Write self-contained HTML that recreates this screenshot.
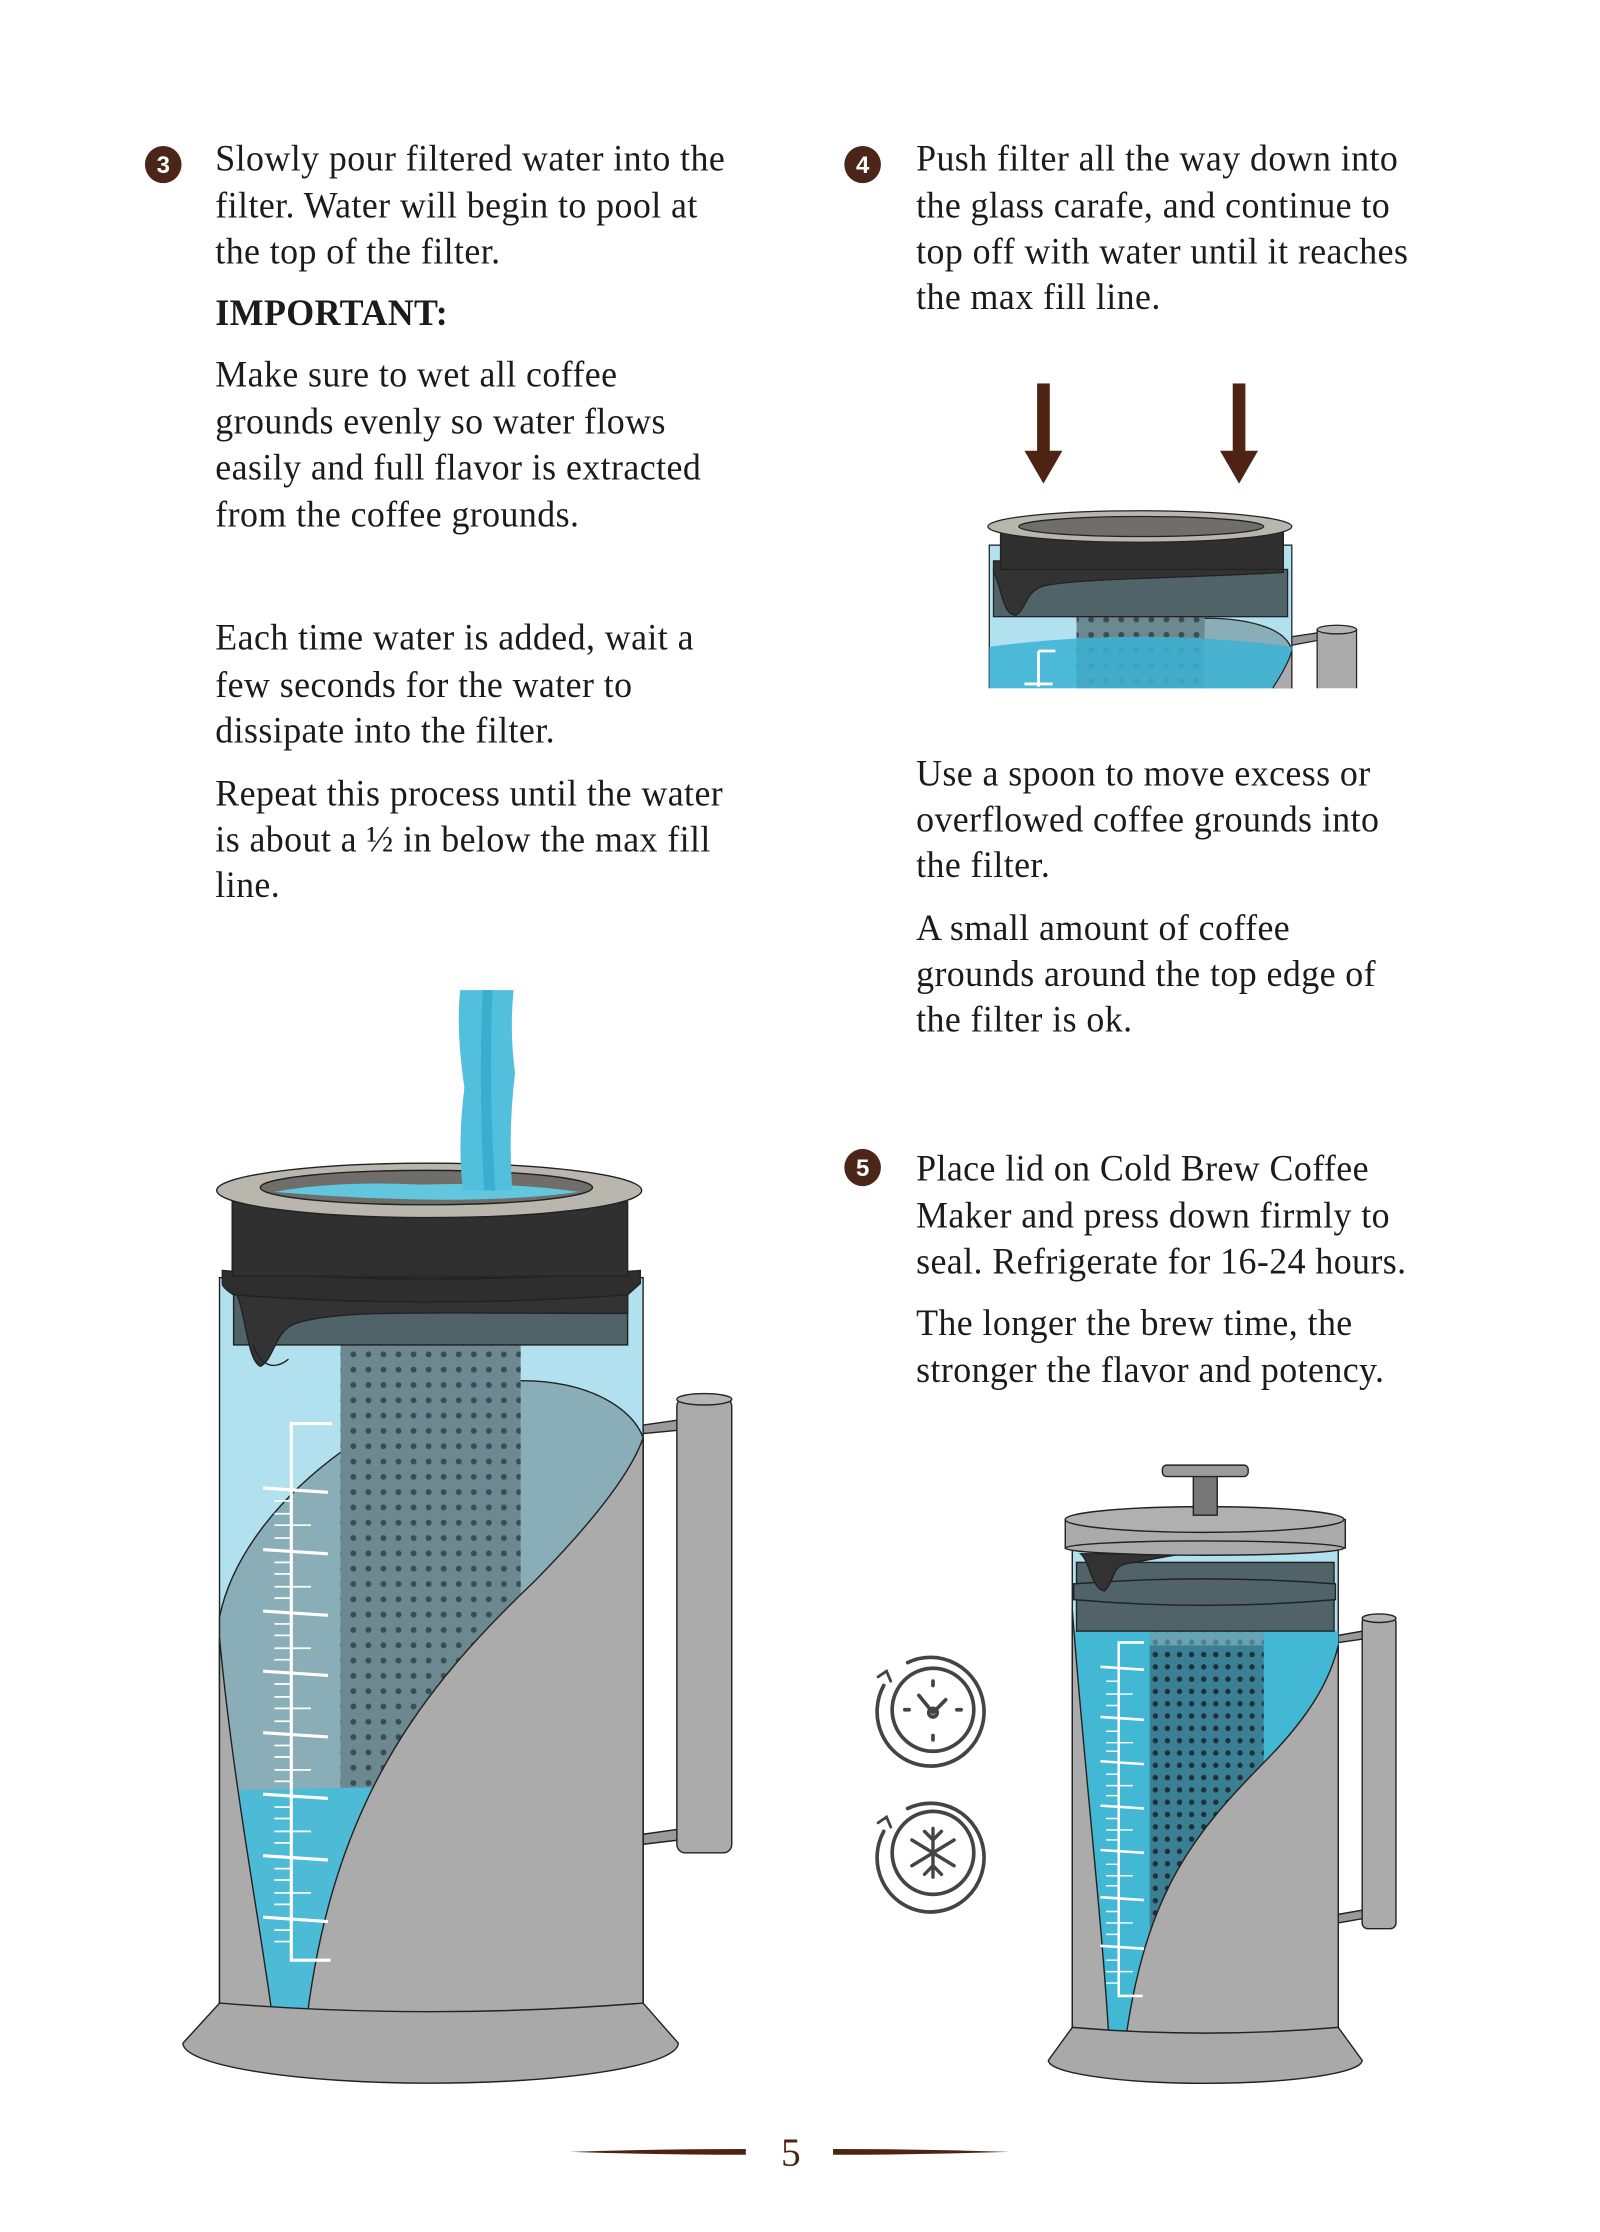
<!DOCTYPE html>
<html><head><meta charset="utf-8"><style>
html,body{margin:0;padding:0;background:#fff}
svg{display:block}
.t{font-family:"Liberation Serif",serif;font-size:25.5px;letter-spacing:0.3px;fill:#1b1b1b}
.b{font-weight:bold}
.n{font-family:"Liberation Sans",sans-serif;font-weight:bold;font-size:17px;fill:#fff}
</style></head><body>
<svg width="1600" height="2232" viewBox="0 0 1137 1560" preserveAspectRatio="none" xmlns="http://www.w3.org/2000/svg">
<defs>
<pattern id="dots" width="10.7" height="10.7" patternUnits="userSpaceOnUse"><circle cx="5" cy="5" r="2.1" fill="#3c4d52"/></pattern>
<pattern id="dots2" width="8.6" height="8.6" patternUnits="userSpaceOnUse"><circle cx="4" cy="4" r="1.9" fill="#1f2f36"/></pattern>
<clipPath id="c4"><rect x="690" y="250" width="300" height="231"/></clipPath>
</defs>

<circle cx="116" cy="115" r="13" fill="#4a2518"/><text x="116" y="121" text-anchor="middle" class="n">3</text>
<circle cx="613" cy="115" r="13" fill="#4a2518"/><text x="613" y="121" text-anchor="middle" class="n">4</text>
<circle cx="613" cy="816" r="13" fill="#4a2518"/><text x="613" y="822" text-anchor="middle" class="n">5</text>

<g class="t">
<text x="153" y="119">Slowly pour filtered water into the</text>
<text x="153" y="152">filter. Water will begin to pool at</text>
<text x="153" y="184">the top of the filter.</text>
<text x="153" y="227" class="b">IMPORTANT:</text>
<text x="153" y="270">Make sure to wet all coffee</text>
<text x="153" y="303">grounds evenly so water flows</text>
<text x="153" y="335">easily and full flavor is extracted</text>
<text x="153" y="368">from the coffee grounds.</text>
<text x="153" y="454">Each time water is added, wait a</text>
<text x="153" y="487">few seconds for the water to</text>
<text x="153" y="519">dissipate into the filter.</text>
<text x="153" y="563">Repeat this process until the water</text>
<text x="153" y="595">is about a ½ in below the max fill</text>
<text x="153" y="627">line.</text>
<text x="651" y="119">Push filter all the way down into</text>
<text x="651" y="152">the glass carafe, and continue to</text>
<text x="651" y="184">top off with water until it reaches</text>
<text x="651" y="216">the max fill line.</text>
<text x="651" y="549">Use a spoon to move excess or</text>
<text x="651" y="581">overflowed coffee grounds into</text>
<text x="651" y="613">the filter.</text>
<text x="651" y="657">A small amount of coffee</text>
<text x="651" y="689">grounds around the top edge of</text>
<text x="651" y="721">the filter is ok.</text>
<text x="651" y="825">Place lid on Cold Brew Coffee</text>
<text x="651" y="858">Maker and press down firmly to</text>
<text x="651" y="890">seal. Refrigerate for 16-24 hours.</text>
<text x="651" y="933">The longer the brew time, the</text>
<text x="651" y="966">stronger the flavor and potency.</text>
</g>

<g stroke="#222" stroke-width="1">
<path d="M457,996 L500,990 L500,998 L457,1002 Z" fill="#9a9a9a"/>
<path d="M457,1282 L500,1276 L500,1284 L457,1289 Z" fill="#9a9a9a"/>
<rect x="481" y="977" width="39" height="318" rx="6" fill="#ababab"/>
<ellipse cx="500.5" cy="978" rx="19.5" ry="4" fill="#b5b5b5"/>
<rect x="156" y="893" width="301" height="510" fill="#b1e1ee"/>
<path d="M156,1130 C175,1040 300,965 370,965 C420,965 450,985 457,1005 L457,1403 L156,1403 Z" fill="#89aeb8"/>
<rect x="242" y="940" width="128" height="335" fill="#6c8991" stroke="none"/>
<rect x="242" y="940" width="128" height="335" fill="url(#dots)" stroke="none"/>
<path d="M156,1252 Q300,1246 457,1252 L457,1420 L156,1420 Z" fill="#4dbad6" stroke="none"/>
<path d="M217,1420 C235,1260 300,1180 380,1105 C430,1055 450,1025 457,1005 L457,1403 L217,1420 Z" fill="#ababab"/>
<path d="M156,1145 C166,1250 186,1350 195,1420 L156,1420 Z" fill="#ababab"/>
</g>
<g stroke="#fff" stroke-width="2.2" fill="none">
<path d="M236,995 L207,995 L207,1370 L235,1370"/>
<path d="M187,1040 L233,1043 M187,1083 L233,1086 M187,1126 L233,1129 M187,1168 L233,1171 M187,1211 L233,1214 M187,1254 L233,1257 M187,1297 L233,1300 M187,1340 L233,1343"/>
</g>
<g stroke="#fff" stroke-width="1.2">
<path d="M195,1049 H207 M195,1058 H207 M195,1066 H221 M195,1075 H207 M195,1092 H207 M195,1100 H207 M195,1109 H221 M195,1117 H207 M195,1135 H207 M195,1143 H207 M195,1152 H221 M195,1160 H207 M195,1177 H207 M195,1186 H207 M195,1194 H221 M195,1203 H207 M195,1220 H207 M195,1228 H207 M195,1237 H221 M195,1245 H207 M195,1263 H207 M195,1271 H207 M195,1280 H221 M195,1288 H207 M195,1306 H207 M195,1314 H207 M195,1323 H221 M195,1331 H207 M195,1349 H207 M195,1357 H207"/>
</g>
<g stroke="#222" stroke-width="1">
<path d="M156,1400 L130,1428 A176,28 0 0 0 482,1428 L457,1400 Q305,1412 156,1400 Z" fill="#a9a9a9"/>
<rect x="166" y="895" width="280" height="45" fill="#4f6369"/>
<path d="M166,900 C175,915 175,950 185,955 C195,950 195,930 210,925 C240,915 300,918 446,918 L446,895 L166,895 Z" fill="#333"/>
<path d="M180,940 C185,955 195,958 205,950" fill="none"/>
<path d="M158,888 Q305,900 455,888 L455,897 Q446,905 446,905 Q305,915 166,905 Q158,900 158,897 Z" fill="#2e2e2e"/>
<rect x="165" y="840" width="281" height="52" fill="#303030"/>
<ellipse cx="305" cy="832" rx="151" ry="19" fill="#b9b6ae"/>
<ellipse cx="303" cy="830" rx="118" ry="12" fill="#6f6e6a"/>
<path d="M195,833 Q240,825 300,828 Q360,826 412,833 Q330,844 195,833 Z" fill="#62c6de" stroke="none"/>
</g>
<path d="M327,692 L365,692 Q362,720 366,750 Q361,790 364,832 L329,832 Q325,800 330,760 Q324,720 327,692 Z" fill="#52bfdc"/>
<path d="M343,692 L350,692 Q347,760 352,832 L344,832 Q340,760 343,692 Z" fill="#3aaecf"/>

<g fill="#4e2314">
<rect x="737" y="268" width="9" height="48"/><path d="M728,315 L755,315 L741.5,338 Z"/>
<rect x="876" y="268" width="9" height="48"/><path d="M867,315 L894,315 L880.5,338 Z"/>
</g>
<g clip-path="url(#c4)" stroke="#222" stroke-width="0.9">
<path d="M918,445 L945,441 L945,446 L918,451 Z" fill="#999"/>
<rect x="936" y="440" width="28" height="60" fill="#ababab"/>
<ellipse cx="950" cy="440" rx="14" ry="3" fill="#b5b5b5"/>
<rect x="703" y="381" width="215" height="120" fill="#b1e1ee"/>
<path d="M855,432 C890,432 915,440 918,455 L918,500 L855,500 Z" fill="#89aeb8"/>
<rect x="765" y="430" width="91" height="70" fill="#6c8991" stroke="none"/>
<rect x="765" y="430" width="91" height="70" fill="url(#dots)" stroke="none"/>
<path d="M703,452 Q810,438 918,452 L918,500 L703,500 Z" fill="#3cb2d3" fill-opacity="0.85" stroke="none"/>
<path d="M905,480 Q915,465 918,455 L918,500 L900,500 Z" fill="#ababab"/>
<rect x="706" y="398" width="209" height="33" fill="#4f6369"/>
<path d="M706,400 C712,410 712,430 722,430 C730,425 728,415 740,410 C760,404 850,404 912,400 L912,392 L706,392 Z" fill="#333"/>
<rect x="711" y="370" width="201" height="28" fill="#303030"/>
<ellipse cx="810" cy="368" rx="108" ry="11" fill="#b9b6ae"/>
<ellipse cx="811" cy="368" rx="87" ry="7" fill="#6f6e6a"/>
<path d="M738,455 H750 M738,455 V480 M728,478 H748" stroke="#fff" stroke-width="2" fill="none"/>
</g>

<g stroke="#222" stroke-width="1">
<path d="M951,1143 L980,1138 L980,1144 L951,1148 Z" fill="#999"/>
<path d="M951,1338 L980,1333 L980,1339 L951,1344 Z" fill="#999"/>
<rect x="968" y="1130" width="24" height="218" rx="4" fill="#ababab"/>
<ellipse cx="980" cy="1131" rx="12" ry="3" fill="#b5b5b5"/>
<rect x="762" y="1080" width="189" height="345" fill="#b1e1ee"/>
<rect x="762" y="1140" width="189" height="285" fill="#42b8d5" stroke="none"/>
<rect x="817" y="1140" width="81" height="220" fill="#3b7f95" stroke="none"/>
<rect x="817" y="1140" width="81" height="220" fill="url(#dots2)" stroke="none"/>
<rect x="817" y="1140" width="81" height="10" fill="#8fc9d6" fill-opacity="0.5" stroke="none"/>
<path d="M800,1425 C815,1320 850,1280 900,1230 C930,1200 945,1175 951,1150 L951,1425 Z" fill="#ababab"/>
<path d="M762,1125 C770,1230 783,1340 788,1425 L762,1425 Z" fill="#ababab"/>
</g>
<g stroke="#fff" stroke-width="1.8" fill="none">
<path d="M813,1148 L795,1148 L795,1395 L812,1395"/>
<path d="M782,1165 L813,1167 M782,1200 L813,1202 M782,1231 L813,1233 M782,1262 L813,1264 M782,1293 L813,1295 M782,1326 L813,1328 M782,1360 L813,1362"/>
</g>
<g stroke="#fff" stroke-width="1">
<path d="M786,1175 H795 M786,1184 H805 M786,1192 H795 M786,1210 H795 M786,1218 H805 M786,1224 H795 M786,1240 H795 M786,1248 H805 M786,1255 H795 M786,1271 H795 M786,1279 H805 M786,1286 H795 M786,1303 H795 M786,1311 H805 M786,1318 H795 M786,1336 H795 M786,1344 H805 M786,1352 H795 M786,1370 H795 M786,1378 H805 M786,1386 H795"/>
</g>
<g stroke="#222" stroke-width="1">
<path d="M762,1417 L745,1440 A111,16 0 0 0 968,1440 L951,1417 Q856,1425 762,1417 Z" fill="#a9a9a9"/>
<rect x="765" y="1092" width="183" height="48" fill="#4f6369"/>
<path d="M763,1107 Q856,1100 949,1107 L949,1118 Q856,1126 763,1118 Z" fill="#4f6369"/>
<path d="M768,1086 C775,1092 775,1110 785,1112 C792,1105 790,1095 800,1093 L840,1086 Z" fill="#333"/>
<rect x="757" y="1062" width="199" height="20" fill="#ababab"/>
<ellipse cx="856" cy="1082" rx="99" ry="5" fill="#ababab"/>
<ellipse cx="856" cy="1062" rx="99" ry="9" fill="#b0b0b0"/>
<rect x="848" y="1031" width="17" height="28" fill="#777"/>
<rect x="826" y="1024" width="61" height="8" rx="3" fill="#9b9b9b"/>
</g>

<g fill="none" stroke="#444" stroke-width="2.6" stroke-linecap="round">
<path d="M645,1162 A38,38 0 1 1 628,1178"/>
<path d="M624,1172 L630,1168 L633,1175" stroke-width="2"/>
<circle cx="663" cy="1195" r="29"/>
<path d="M663,1197 L653,1185 M663,1197 L672,1188"/>
<circle cx="663" cy="1197" r="3"/>
<path d="M663,1175 V1178 M663,1213 V1216 M643,1195 H646 M680,1195 H683"/>
<path d="M645,1264 A38,38 0 1 1 628,1280"/>
<path d="M624,1274 L630,1270 L633,1277" stroke-width="2"/>
<circle cx="663" cy="1295" r="29"/>
<path d="M663,1278 V1312 M648,1286 L678,1304 M648,1304 L678,1286 M657,1280 L663,1286 L669,1280 M657,1310 L663,1304 L669,1310" stroke-width="2.4"/>
</g>

<path d="M405,1504 Q470,1502 530,1502 L530,1506 Q470,1506 405,1504 Z" fill="#4e2314"/>
<path d="M592,1502 Q655,1502 717,1504 Q655,1506 592,1506 Z" fill="#4e2314"/>
<text x="562" y="1514" text-anchor="middle" font-family="Liberation Serif,serif" font-size="28" fill="#4e2314">5</text>
</svg>
</body></html>
